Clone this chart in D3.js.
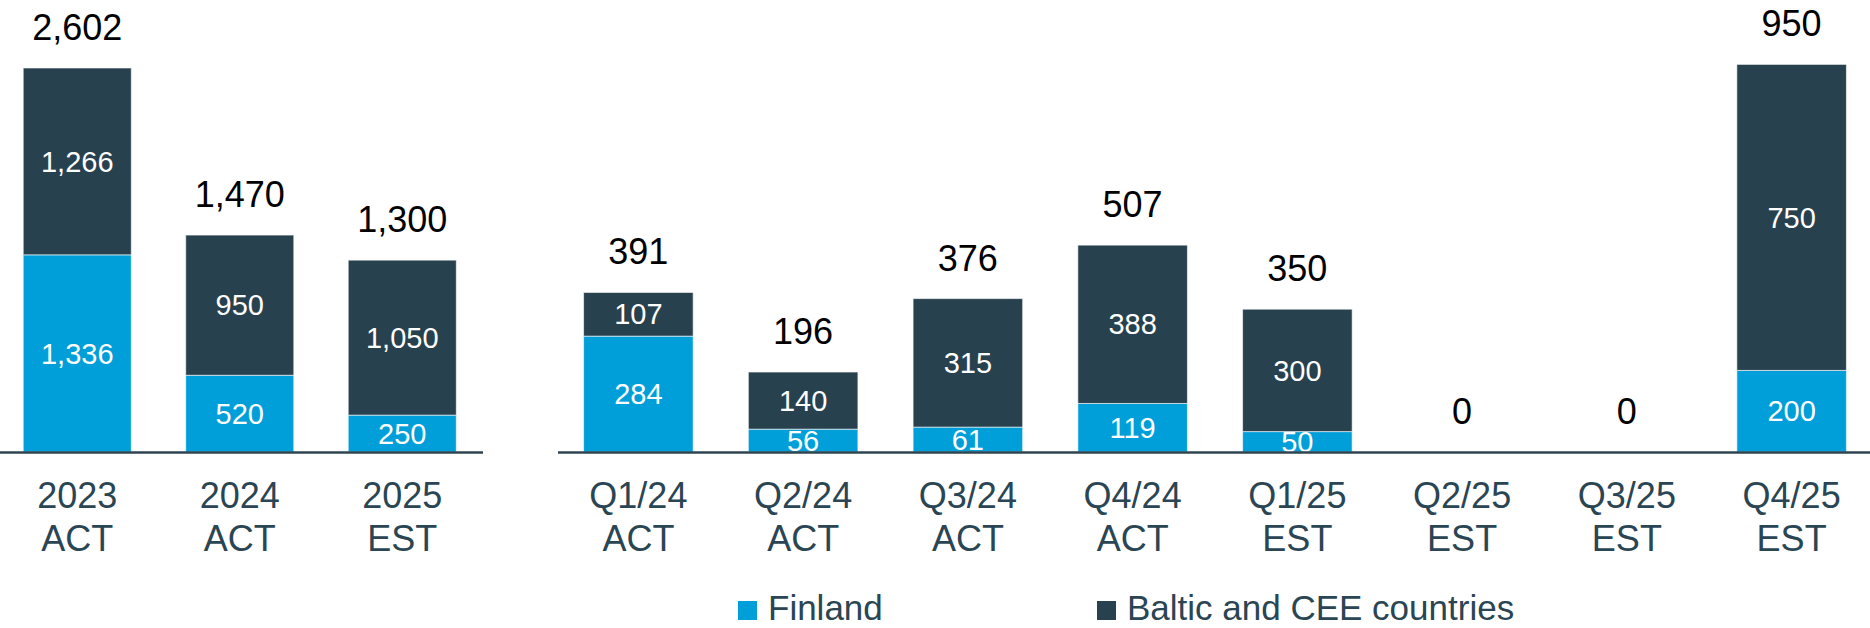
<!DOCTYPE html>
<html>
<head>
<meta charset="utf-8">
<script src="https://cdn.jsdelivr.net/npm/d3@7"></script>
<style>
  html, body { margin: 0; padding: 0; background: #fff; }
  svg { display: block; font-family: "Liberation Sans", Arial, sans-serif; }
</style>
</head>
<body>
<svg id="chart" width="1870" height="628"></svg>
<script>
// ---- Data ----
const yearCategories = [["2023", "ACT"], ["2024", "ACT"], ["2025", "EST"]];
const yearFinland = [1336, 520, 250];
const yearBaltic = [1266, 950, 1050];

const quarterCategories = [["Q1/24", "ACT"], ["Q2/24", "ACT"], ["Q3/24", "ACT"], ["Q4/24", "ACT"],
                           ["Q1/25", "EST"], ["Q2/25", "EST"], ["Q3/25", "EST"], ["Q4/25", "EST"]];
const quarterFinland = [284, 56, 61, 119, 50, 0, 0, 200];
const quarterBaltic = [107, 140, 315, 388, 300, 0, 0, 750];

const seriesNames = ["Finland", "Baltic and CEE countries"];
const colors = ["#009fd9", "#27414f"];
const textColor = "#2a4553";

const svg = d3.select("#chart");
const baseline = 452;
const fmt = d3.format(",");

function panel(cats, fin, bal, xRange, yTop, yMaxVal, axisX) {
  const keys = cats.map(c => c.join(" "));
  const x = d3.scaleBand().domain(keys).range(xRange).paddingInner(0.335).paddingOuter(0.1675);
  const y = d3.scaleLinear().domain([0, yMaxVal]).range([baseline, yTop]);
  const rows = keys.map((k, i) => ({ key: k, cat: cats[i], Finland: fin[i], Baltic: bal[i] }));
  const stack = d3.stack().keys(["Finland", "Baltic"])(rows);
  const g = svg.append("g");

  stack.forEach((layer, li) => {
    g.selectAll(null).data(layer.filter(d => d[1] - d[0] > 0)).join("rect")
      .attr("x", d => x(d.data.key))
      .attr("width", x.bandwidth())
      .attr("y", d => y(d[1]))
      .attr("height", d => y(d[0]) - y(d[1]))
      .attr("fill", colors[li])
      .attr("stroke", "rgba(255,255,255,0.6)")
      .attr("stroke-width", 1);
    g.selectAll(null).data(layer.filter(d => d[1] - d[0] > 0)).join("text")
      .attr("x", d => x(d.data.key) + x.bandwidth() / 2)
      .attr("y", d => (y(d[0]) + y(d[1])) / 2)
      .attr("dy", "0.35em")
      .attr("text-anchor", "middle")
      .attr("fill", "#fff")
      .attr("font-size", 29)
      .text(d => fmt(d[1] - d[0]));
  });

  // totals
  g.selectAll(null).data(rows).join("text")
    .attr("x", d => x(d.key) + x.bandwidth() / 2)
    .attr("y", d => y(d.Finland + d.Baltic) - 28)
    .attr("text-anchor", "middle")
    .attr("fill", "#000")
    .attr("font-size", 36)
    .text(d => fmt(d.Finland + d.Baltic));

  // axis line
  g.append("line")
    .attr("x1", axisX[0]).attr("x2", axisX[1])
    .attr("y1", baseline + 0.5).attr("y2", baseline + 0.5)
    .attr("stroke", "#2f4450").attr("stroke-width", 2.5);

  // category labels
  const lab = g.selectAll(null).data(rows).join("text")
    .attr("text-anchor", "middle")
    .attr("fill", textColor)
    .attr("font-size", 36);
  lab.append("tspan").attr("x", d => x(d.key) + x.bandwidth() / 2).attr("y", 508).text(d => d.cat[0]);
  lab.append("tspan").attr("x", d => x(d.key) + x.bandwidth() / 2).attr("y", 551).text(d => d.cat[1]);
}

panel(yearCategories, yearFinland, yearBaltic, [-4, 483.5], 68, 2602, [0, 483]);
panel(quarterCategories, quarterFinland, quarterBaltic, [556, 1874], 64.4, 950, [558, 1870]);

// legend
const legend = svg.append("g");
const legendX = [738, 1097];
seriesNames.forEach((name, i) => {
  legend.append("rect").attr("x", legendX[i]).attr("y", 601).attr("width", 19).attr("height", 19).attr("fill", colors[i]);
  legend.append("text").attr("x", legendX[i] + 30).attr("y", 620)
    .attr("fill", textColor).attr("font-size", 35).text(name);
});
</script>
</body>
</html>
